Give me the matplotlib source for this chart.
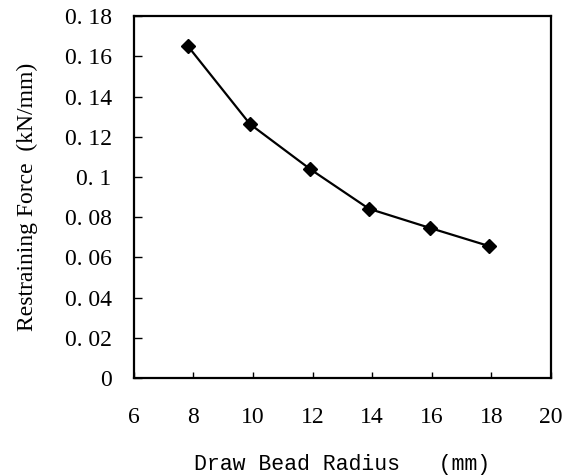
import matplotlib
matplotlib.use("Agg")
import matplotlib.pyplot as plt

radius = [7.82, 9.9, 11.93, 13.89, 15.95, 17.93]
force = [0.165, 0.1263, 0.1038, 0.0842, 0.0746, 0.0656]
xticks = [6, 8, 10, 12, 14, 16, 18, 20]
yticks = [0, 0.02, 0.04, 0.06, 0.08, 0.10, 0.12, 0.14, 0.16, 0.18]
ylabels = ["0", "0. 02", "0. 04", "0. 06", "0. 08", "0. 1", "0. 12", "0. 14", "0. 16", "0. 18"]

fig = plt.figure(figsize=(5.72, 4.76), dpi=100)
ax = fig.add_axes([0.234, 0.206, 0.729, 0.76])
ax.plot(radius, force, color="black", lw=1.6, marker="D", markersize=7,
        markerfacecolor="black", markeredgecolor="black")
ax.set_xlim(6, 20)
ax.set_ylim(0, 0.18)
ax.set_xticks(xticks)
ax.set_xticklabels([str(t) for t in xticks], family="Liberation Serif", fontsize=17)
ax.set_yticks(yticks)
ax.set_yticklabels(ylabels, family="Liberation Serif", fontsize=17)
ax.tick_params(axis="y", direction="in", length=6, width=1, pad=16, right=False)
ax.tick_params(axis="x", direction="in", length=4, width=1, pad=21, top=False)
for s in ax.spines.values():
    s.set_linewidth(1.6)
ax.set_ylabel("Restraining Force  (kN/mm)", family="Liberation Serif", fontsize=17, labelpad=19)
ax.set_xlabel("Draw Bead Radius   (mm)", family="Liberation Mono", fontsize=15.5, labelpad=19)
fig.savefig("out.png", dpi=100)
